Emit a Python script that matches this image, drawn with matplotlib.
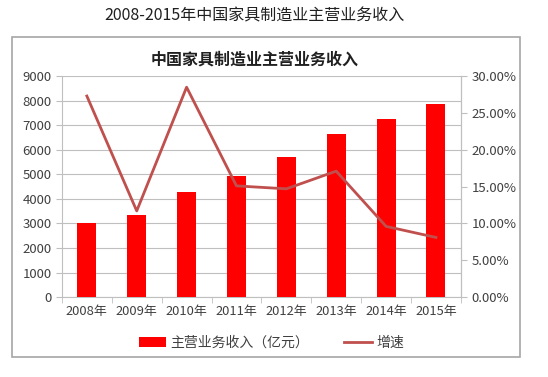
"""
2008-2015 中国家具制造业主营业务收入 — bar + growth-rate line, twin axes.
"""

import matplotlib
matplotlib.use("Agg")
import matplotlib.pyplot as plt
from matplotlib.patches import Rectangle
from matplotlib.ticker import FuncFormatter, MultipleLocator

plt.rcParams["font.family"] = ["Noto Sans CJK SC", "DejaVu Sans"]

YEARS   = ["2008年", "2009年", "2010年", "2011年", "2012年", "2013年", "2014年", "2015年"]
REVENUE = [3000, 3340, 4290, 4940, 5690, 6630, 7250, 7860]          # 亿元
GROWTH  = [27.3, 11.7, 28.5, 15.1, 14.7, 17.1, 9.6, 8.1]           # %

BAR_C   = "#FF0000"
LINE_C  = "#C0504D"
GRID_C  = "#BFBFBF"
TEXT_C  = "#404040"

fig = plt.figure(figsize=(5.48, 3.77), dpi=100)
fig.text(0.465, 0.958, "2008-2015年中国家具制造业主营业务收入", ha="center", va="center",
         fontsize=11.5, color="#202020")
fig.patches.append(Rectangle((0.022, 0.053), 0.927, 0.849, transform=fig.transFigure,
                             fill=False, edgecolor="#A6A6A6", linewidth=1.2))

ax = fig.add_axes([0.113, 0.212, 0.728, 0.586])
x = range(len(YEARS))
ax.bar(x, REVENUE, width=0.38, color=BAR_C, zorder=3, label="主营业务收入（亿元）")
ax.set_ylim(0, 9000)
ax.set_xlim(-0.5, len(YEARS) - 0.5)
ax.yaxis.set_major_locator(MultipleLocator(1000))
ax.grid(axis="y", color=GRID_C, linewidth=0.8, zorder=0)
ax.set_xticks(list(x))
ax.set_xticklabels(YEARS)
ax.set_xticks([i + 0.5 for i in range(-1, len(YEARS))], minor=True)
ax.tick_params(axis="x", which="major", length=0, pad=6, labelsize=9.3, labelcolor=TEXT_C)
ax.tick_params(axis="x", which="minor", length=4, color=GRID_C)
ax.tick_params(axis="y", length=4, color=GRID_C, labelsize=9.5, labelcolor=TEXT_C)
ax.spines["top"].set_visible(False)
for s in ["left", "bottom", "right"]:
    ax.spines[s].set_color(GRID_C)

ax2 = ax.twinx()
ax2.plot(list(x), GROWTH, color=LINE_C, linewidth=2, zorder=4, label="增速")
ax2.set_ylim(0, 30)
ax2.yaxis.set_major_locator(MultipleLocator(5))
ax2.yaxis.set_major_formatter(FuncFormatter(lambda v, _: f"{v:.2f}%"))
ax2.tick_params(axis="y", length=4, color=GRID_C, labelsize=9.5, labelcolor=TEXT_C)
for s in ["top", "left", "bottom"]:
    ax2.spines[s].set_visible(False)
ax2.spines["right"].set_color(GRID_C)

fig.text(0.465, 0.843, "中国家具制造业主营业务收入", ha="center", va="center",
         fontsize=11.5, fontweight="bold", color="#202020")

h1, l1 = ax.get_legend_handles_labels()
h2, l2 = ax2.get_legend_handles_labels()
fig.legend(h1 + h2, l1 + l2, loc="center", bbox_to_anchor=(0.495, 0.090), ncol=2,
           frameon=False, fontsize=10, labelcolor=TEXT_C, handlelength=2.0,
           handletextpad=0.3, columnspacing=2.5)

fig.savefig("out.png", dpi=100)
